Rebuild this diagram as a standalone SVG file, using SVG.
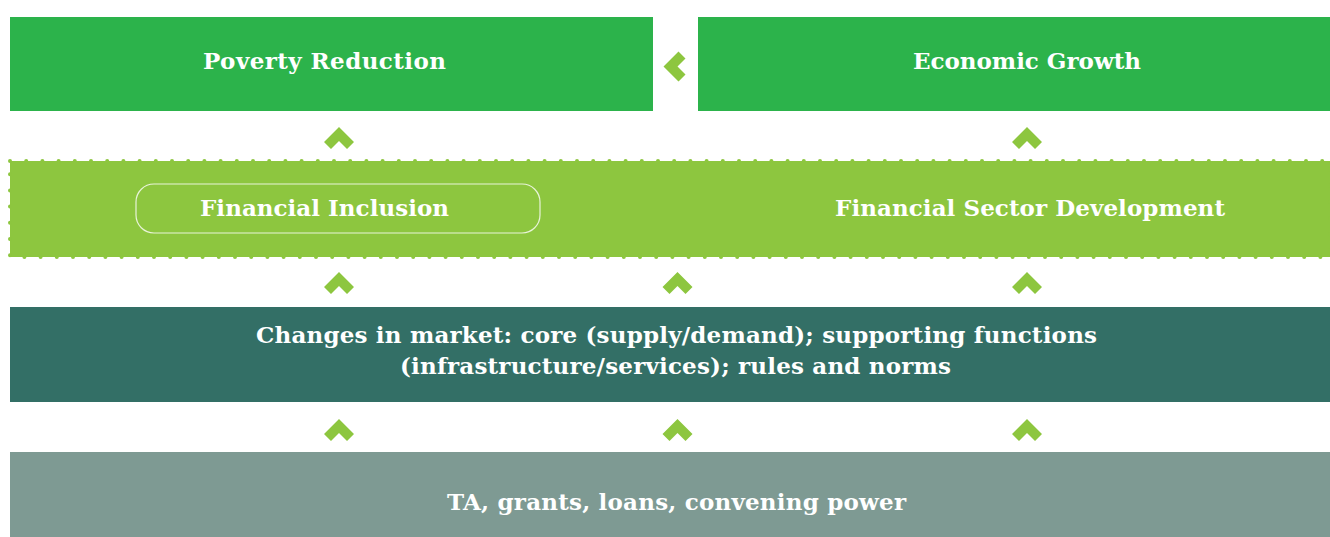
<svg xmlns="http://www.w3.org/2000/svg" width="1330" height="537" viewBox="0 0 1330 537">
<style>
.t{font-family:"DejaVu Serif",serif;font-weight:bold;font-size:23px;fill:#ffffff;text-anchor:middle}
.chev{fill:#8dc63f}
</style>
<defs>
<polygon id="up" points="-15,15 0,0 15,15 8,22 0,14 -8,22"/>
</defs>
<rect width="1330" height="537" fill="#ffffff"/>
<g id="poverty-reduction">
<rect x="10" y="17" width="643" height="94" fill="#2cb34b"/>
<text class="t" x="324.5" y="69" textLength="243">Poverty Reduction</text>
</g>
<g id="economic-growth">
<rect x="698" y="17" width="632" height="94" fill="#2cb34b"/>
<text class="t" x="1027" y="69" textLength="228">Economic Growth</text>
</g>
<g id="financial-band">
<rect x="10" y="161" width="1320" height="96" fill="#8dc63f" stroke="#8dc63f" stroke-width="4" stroke-dasharray="0 16.2" stroke-linecap="round"/>
</g>
<g id="financial-inclusion">
<rect x="136" y="184" width="404" height="49" rx="18" fill="none" stroke="#e8f3d8" stroke-width="1.2"/>
<text class="t" x="324.5" y="216" textLength="249">Financial Inclusion</text>
</g>
<g id="financial-sector-development">
<text class="t" x="1030" y="216" textLength="390">Financial Sector Development</text>
</g>
<g id="market-changes">
<rect x="10" y="307" width="1320" height="95" fill="#336f66"/>
<text class="t" x="676.5" y="343" textLength="841">Changes in market: core (supply/demand); supporting functions</text>
<text class="t" x="675.5" y="374" textLength="551">(infrastructure/services); rules and norms</text>
</g>
<g id="instruments">
<rect x="10" y="452" width="1320" height="85" fill="#7e9a93"/>
<text class="t" x="676.5" y="510" textLength="459">TA, grants, loans, convening power</text>
</g>
<g id="connectors" class="chev">
<polygon points="678.5,51.5 663.5,66.5 678.5,81.5 685.5,74.5 677.5,66.5 685.5,58.5"/>
<use href="#up" x="339" y="127"/>
<use href="#up" x="1027" y="127"/>
<use href="#up" x="339" y="272"/>
<use href="#up" x="677.5" y="272"/>
<use href="#up" x="1027" y="272"/>
<use href="#up" x="339" y="419"/>
<use href="#up" x="677.5" y="419"/>
<use href="#up" x="1027" y="419"/>
</g>
</svg>
